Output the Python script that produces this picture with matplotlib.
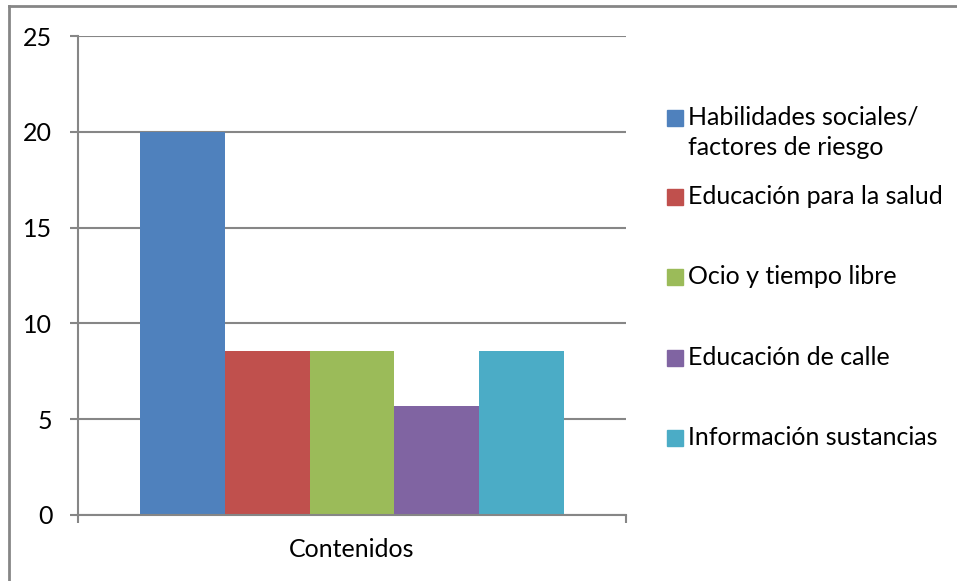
import matplotlib.pyplot as plt
from matplotlib.lines import Line2D
from matplotlib.patches import Rectangle

categories = [
    "Habilidades sociales/\nfactores de riesgo",
    "Educación para la salud",
    "Ocio y tiempo libre",
    "Educación de calle",
    "Información sustancias",
]
values = [20, 8.57, 8.57, 5.71, 8.57]
colors = ["#4f81bd", "#c0504d", "#9bbb59", "#8064a2", "#4bacc6"]
y_ticks = [0, 5, 10, 15, 20, 25]
group_label = "Contenidos"

W, H = 957, 581
FS = 18
plt.rcParams["font.family"] = ["Lato", "DejaVu Sans"]
grey = "#868686"

fig = plt.figure(figsize=(W / 100, H / 100), dpi=100)
ax = fig.add_axes([78 / W, 1 - 515 / H, (626 - 78) / W, (515 - 36) / H])

# bars side by side inside the single category
n = len(values)
pos = [i - (n - 1) / 2 for i in range(n)]
ax.bar(pos, values, width=1.0, color=colors, zorder=2)

half = 2.5 + 62 / 84.4
ax.set_xlim(-half, half)
ax.set_ylim(0, 25)
ax.set_yticks(y_ticks)
ax.set_yticklabels([str(t) for t in y_ticks], fontsize=FS)
ax.yaxis.grid(True, color=grey, linewidth=1.5, zorder=0)
ax.set_xticks([-half, half])
ax.set_xticklabels(["", ""])
ax.tick_params(axis="both", direction="out", length=6, width=1.5, color=grey)
ax.tick_params(axis="y", pad=12.5)
for side in ["top", "right"]:
    ax.spines[side].set_visible(False)
for side in ["left", "bottom"]:
    ax.spines[side].set_color(grey)
    ax.spines[side].set_linewidth(1.5)
fig.text(352 / W, 1 - 557 / H, group_label, ha="center", va="baseline", fontsize=FS)

# legend drawn in figure pixels
entry_y = [118, 197, 277, 358, 438]
for c, label, y in zip(colors, categories, entry_y):
    fig.add_artist(Rectangle((667 / W, 1 - (y + 8) / H), 16 / W, 16 / H,
                             color=c, transform=fig.transFigure))
    for k, line in enumerate(label.split("\n")):
        fig.text(688 / W, 1 - (y + 7 + 30 * k) / H, line, ha="left",
                 va="baseline", fontsize=FS)

# outer chart frame
fig.add_artist(Line2D([8.5 / W, 1], [1 - 5.5 / H] * 2, color=grey, lw=2,
                      transform=fig.transFigure))
fig.add_artist(Line2D([8.5 / W] * 2, [0, 1 - 5.5 / H], color=grey, lw=2,
                      transform=fig.transFigure))

fig.savefig("out.png", dpi=100)
